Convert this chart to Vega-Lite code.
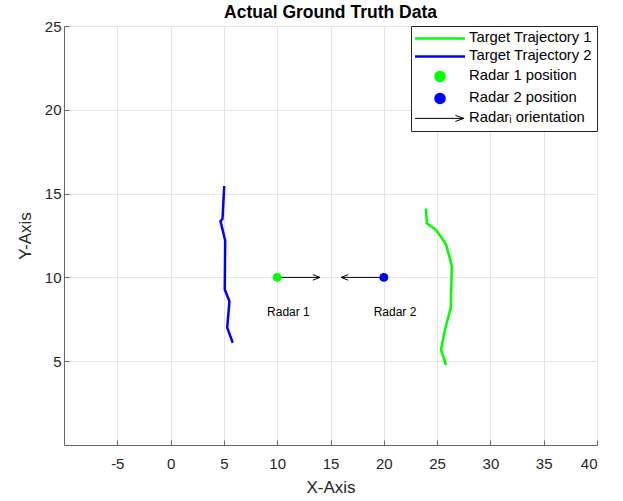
{
  "$schema": "https://vega.github.io/schema/vega-lite/v6.json",
  "width": 533,
  "height": 419,
  "autosize": "none",
  "padding": {"left": 64, "top": 26, "right": 26, "bottom": 56},
  "background": "white",
  "title": {"text": "Actual Ground Truth Data", "font": "Liberation Sans", "fontSize": 17.5, "fontWeight": "bold", "color": "#000000", "offset": -2, "anchor": "middle"},
  "config": {
    "view": {"stroke": null},
    "axis": {"labelFont": "Liberation Sans", "titleFont": "Liberation Sans", "labelFontSize": 15, "titleFontSize": 17, "labelColor": "#262626", "titleColor": "#262626", "titleFontWeight": "normal", "domainColor": "#666666", "tickColor": "#666666", "gridColor": "#e5e5e5", "gridOpacity": 1, "tickSize": -5},
    "legend": {"labelFont": "Liberation Sans", "labelFontSize": 14.8, "labelColor": "#000000"}
  },
  "datasets": {
    "traj": [
      {"series": "Target Trajectory 1", "k": 1, "x": 23.94, "y": 14.10},
      {"series": "Target Trajectory 1", "k": 2, "x": 24.04, "y": 13.23},
      {"series": "Target Trajectory 1", "k": 3, "x": 24.91, "y": 12.83},
      {"series": "Target Trajectory 1", "k": 4, "x": 25.84, "y": 11.97},
      {"series": "Target Trajectory 1", "k": 5, "x": 26.38, "y": 10.68},
      {"series": "Target Trajectory 1", "k": 6, "x": 26.28, "y": 8.19},
      {"series": "Target Trajectory 1", "k": 7, "x": 25.75, "y": 6.89},
      {"series": "Target Trajectory 1", "k": 8, "x": 25.37, "y": 5.70},
      {"series": "Target Trajectory 1", "k": 9, "x": 25.84, "y": 4.76},
      {"series": "Target Trajectory 2", "k": 1, "x": 5.03, "y": 15.45},
      {"series": "Target Trajectory 2", "k": 2, "x": 4.87, "y": 13.5},
      {"series": "Target Trajectory 2", "k": 3, "x": 4.68, "y": 13.36},
      {"series": "Target Trajectory 2", "k": 4, "x": 5.12, "y": 12.2},
      {"series": "Target Trajectory 2", "k": 5, "x": 5.08, "y": 9.28},
      {"series": "Target Trajectory 2", "k": 6, "x": 5.52, "y": 8.58},
      {"series": "Target Trajectory 2", "k": 7, "x": 5.31, "y": 7.0},
      {"series": "Target Trajectory 2", "k": 8, "x": 5.83, "y": 6.1}
    ],
    "radars": [
      {"series": "Radar 1 position", "name": "Radar 1", "x": 10, "y": 10, "xend": 14, "heading": 0, "lx": 11.05, "ly": 7.95},
      {"series": "Radar 2 position", "name": "Radar 2", "x": 20, "y": 10, "xend": 16, "heading": 180, "lx": 21.05, "ly": 7.95}
    ]
  },
  "layer": [
    {
      "data": {"name": "traj"},
      "mark": {"type": "line", "strokeWidth": 2.5},
      "encoding": {
        "x": {"field": "x", "type": "quantitative", "scale": {"domain": [-10, 40], "nice": false, "zero": false}, "axis": {"title": "X-Axis", "values": [-5, 0, 5, 10, 15, 20, 25, 30, 35, 40], "labelExpr": "replace(datum.label, '\u2212', '-')", "labelPadding": 16, "titlePadding": 8}},
        "y": {"field": "y", "type": "quantitative", "scale": {"domain": [0, 25], "nice": false, "zero": false}, "axis": {"title": "Y-Axis", "values": [5, 10, 15, 20, 25], "labelPadding": 8, "titlePadding": 10}},
        "order": {"field": "k", "type": "quantitative"},
        "color": {
          "field": "series", "type": "nominal",
          "scale": {"domain": ["Target Trajectory 1", "Target Trajectory 2", "Radar 1 position", "Radar 2 position", "Radarᵢ orientation"], "range": ["#00ff00", "#0000ff", "#00ff00", "#0000ff", "#000000"]},
          "legend": {
            "title": null, "orient": "top-right", "offset": 0, "padding": 5, "rowPadding": 2, "labelOffset": 38.2,
            "strokeColor": "#262626", "fillColor": "white", "symbolSize": 100, "symbolStrokeWidth": 2.5,
            "encode": {
              "symbols": {
                "update": {
                  "shape": {"signal": "datum.value == 'Radar 1 position' || datum.value == 'Radar 2 position' ? 'M2.42,0A0.9,0.9,0,1,0,4.22,0A0.9,0.9,0,1,0,2.42,0Z' : (datum.value == 'Radarᵢ orientation' ? 'M-1.68,0L8.1,0M6.4,-0.6L8.1,0M6.4,0.6L8.1,0' : 'M-1.68,0L8.32,0')"},
                  "fill": {"signal": "datum.value == 'Radar 1 position' ? '#00ff00' : (datum.value == 'Radar 2 position' ? '#0000ff' : 'transparent')"},
                  "stroke": {"signal": "datum.value == 'Target Trajectory 1' ? '#00ff00' : (datum.value == 'Target Trajectory 2' ? '#0000ff' : (datum.value == 'Radarᵢ orientation' ? '#000000' : 'transparent'))"},
                  "strokeWidth": {"signal": "datum.value == 'Radarᵢ orientation' ? 1 : 2.5"},
                  "opacity": {"value": 1}
                }
              }
            }
          }
        }
      }
    },
    {
      "data": {"name": "radars"},
      "mark": {"type": "rule", "color": "#000000", "strokeWidth": 1},
      "encoding": {
        "x": {"field": "x", "type": "quantitative"},
        "x2": {"field": "xend"},
        "y": {"field": "y", "type": "quantitative"}
      }
    },
    {
      "data": {"name": "radars"},
      "mark": {"type": "point", "shape": "M-1,-0.4L0,0L-1,0.4", "filled": false, "stroke": "#000000", "strokeWidth": 1, "size": 196, "opacity": 1},
      "encoding": {
        "x": {"field": "xend", "type": "quantitative"},
        "y": {"field": "y", "type": "quantitative"},
        "angle": {"field": "heading", "type": "quantitative", "scale": null}
      }
    },
    {
      "data": {"name": "radars"},
      "mark": {"type": "point", "filled": true, "size": 80, "opacity": 1},
      "encoding": {
        "x": {"field": "x", "type": "quantitative"},
        "y": {"field": "y", "type": "quantitative"},
        "color": {"field": "series", "type": "nominal", "legend": null}
      }
    },
    {
      "data": {"name": "radars"},
      "mark": {"type": "text", "font": "Liberation Sans", "fontSize": 12, "color": "#000000", "align": "center", "baseline": "middle"},
      "encoding": {
        "x": {"field": "lx", "type": "quantitative"},
        "y": {"field": "ly", "type": "quantitative"},
        "text": {"field": "name"}
      }
    }
  ]
}
